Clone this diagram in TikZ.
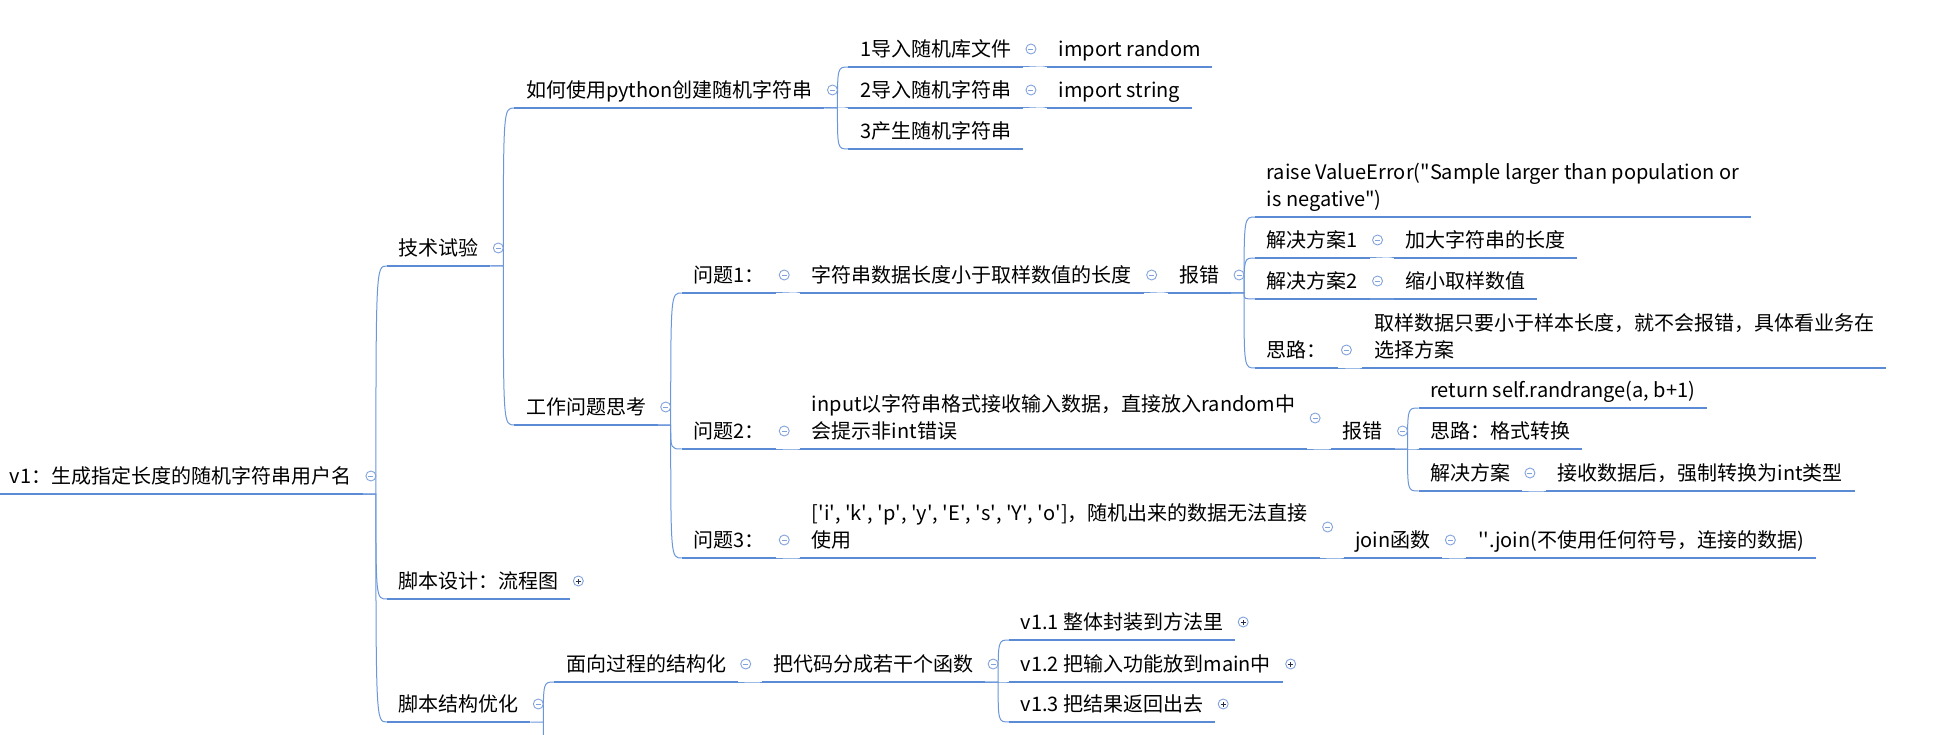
\documentclass[tikz,border=0pt]{standalone}
\usepackage{fontspec}
\setmainfont{Noto Sans CJK SC}
\definecolor{barblue}{RGB}{91,139,213}
\definecolor{linkblue}{RGB}{106,150,218}
\definecolor{iconblue}{RGB}{130,162,220}
\definecolor{plusdark}{RGB}{40,45,70}
\newcommand\sq{\textquotesingle}
\newcommand\dq{\textquotedbl}
\newcommand\twolines[2]{\vbox{\baselineskip=27pt\hbox{#1}\hbox{#2}}}
\tikzset{
  topic/.style={anchor=south west, inner xsep=11.5pt, inner ysep=0pt, text height=15pt, text depth=10.5pt,
    font=\fontsize{20}{24}\selectfont},
  bar/.style={barblue, line width=2.4pt},
  link/.style={linkblue, line width=1pt},
  fold/.style={circle, draw=iconblue, line width=0.9pt, minimum size=10pt, inner sep=0pt,
    path picture={\draw[iconblue, line width=0.9pt] ([xshift=-2.5pt]path picture bounding box.center)
      -- ([xshift=2.5pt]path picture bounding box.center);}},
  unfold/.style={circle, draw=iconblue, line width=0.9pt, minimum size=10pt, inner sep=0pt,
    path picture={\draw[plusdark, line width=0.9pt] ([xshift=-2.5pt]path picture bounding box.center)
      -- ([xshift=2.5pt]path picture bounding box.center) ([yshift=-2.5pt]path picture bounding box.center)
      -- ([yshift=2.5pt]path picture bounding box.center);}}
}
\begin{document}
\begin{tikzpicture}[x=1pt, y=-1pt]
  \useasboundingbox (0,0) rectangle (1951,735);
  \clip (0,0) rectangle (1951,735);
  \node[topic] (root) at (-2,494) {v1：生成指定长度的随机字符串用户名};
  \draw[bar] (root.south west) -- (root.south east);
  % name / parent / underline y / text
  \foreach \nm/\pa/\yy/\tx in {
    tech/root/266/技术试验, how/tech/108/如何使用python创建随机字符串,
    imp1/how/67/1导入随机库文件, rnd/imp1/67/import random,
    imp2/how/108/2导入随机字符串, strg/imp2/108/import string, gen/how/149/3产生随机字符串,
    work/tech/425/工作问题思考,
    q1/work/293/问题1：, short/q1/293/字符串数据长度小于取样数值的长度, err1/short/293/报错,
    raise/err1/217/{\twolines{raise ValueError(\dq Sample larger than population or}{is negative\dq)}},
    sol1/err1/258/解决方案1, big/sol1/258/加大字符串的长度,
    sol2/err1/299/解决方案2, small/sol2/299/缩小取样数值,
    idea1/err1/368/思路：, pick/idea1/368/{\twolines{取样数据只要小于样本长度，就不会报错，具体看业务在}{选择方案}},
    q2/work/449/问题2：, input/q2/449/{\twolines{input以字符串格式接收输入数据，直接放入random中}{会提示非int错误}},
    err2/input/449/报错, ret/err2/408/{return self.randrange(a, b+1)}, idea2/err2/449/思路：格式转换,
    sol3/err2/491/解决方案, cast/sol3/491/接收数据后，强制转换为int类型,
    q3/work/558/问题3：,
    list/q3/558/{\twolines{[\sq i\sq, \sq k\sq, \sq p\sq, \sq y\sq, \sq E\sq, \sq s\sq, \sq Y\sq, \sq o\sq]，随机出来的数据无法直接}{使用}},
    join/list/558/join函数, joins/join/558/{\sq\sq.join(不使用任何符号，连接的数据)},
    flow/root/599/脚本设计：流程图, struct/root/722/脚本结构优化,
    proc/struct/682/面向过程的结构化, func/proc/682/把代码分成若干个函数,
    v11/func/640/v1.1 整体封装到方法里, v12/func/682/v1.2 把输入功能放到main中, v13/func/722/v1.3 把结果返回出去}{
    \node[topic] (\nm) at ([xshift=24pt]\pa.south east |- 0,\yy) {\tx};
    \coordinate (t) at ([xshift=13pt]\pa.south east);
    \draw[link] (\pa.south east) -- (t) .. controls (t |- \nm.south west) and (t |- \nm.south west) .. (\nm.south west);
    \draw[bar] (\nm.south west) -- (\nm.south east);
  }
  % branch that runs on below the page
  \coordinate (more) at (558,800);
  \coordinate (t) at ([xshift=13pt]struct.south east);
  \draw[link] (t) .. controls (t |- more) and (t |- more) .. (more);
  % fold marks
  \foreach \nm/\st/\hh in {root/fold/18pt, tech/fold/18pt, how/fold/18pt, imp1/fold/18pt, imp2/fold/18pt,
    work/fold/18pt, q1/fold/18pt, short/fold/18pt, err1/fold/18pt, sol1/fold/18pt, sol2/fold/18pt,
    idea1/fold/18pt, q2/fold/18pt, input/fold/31pt, err2/fold/18pt, sol3/fold/18pt, q3/fold/18pt,
    list/fold/31pt, join/fold/18pt, flow/unfold/18pt, struct/fold/18pt, proc/fold/18pt, func/fold/18pt,
    v11/unfold/18pt, v12/unfold/18pt, v13/unfold/18pt}
    \node[\st] (i-\nm) at ([shift={(8pt,\hh)}]\nm.south east) {};
\end{tikzpicture}
\end{document}
